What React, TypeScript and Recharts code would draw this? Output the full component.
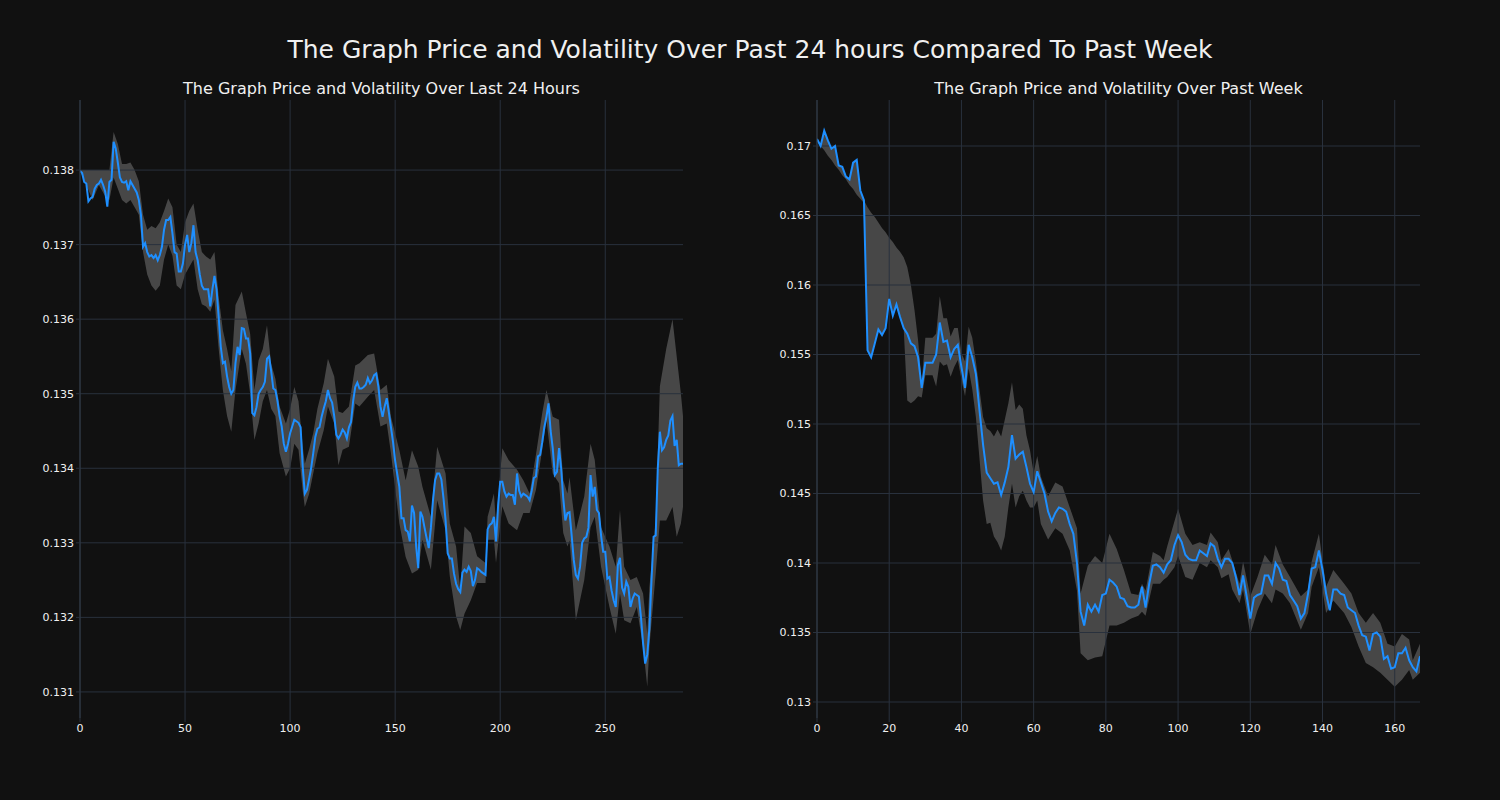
import React from 'react';
import {
  ComposedChart,
  Line,
  Area,
  XAxis,
  YAxis,
  ReferenceLine,
} from 'recharts';

// last 24 hours, one point per 5 minutes
const dayPrice = [
  0.13799, 0.13796, 0.13784, 0.13782, 0.13758, 0.13762, 0.13764, 0.13775, 0.13780, 0.13782,
  0.13787, 0.13780, 0.13771, 0.13751, 0.13784, 0.13787, 0.13838, 0.13829, 0.13810, 0.13790,
  0.13784, 0.13783, 0.13785, 0.13773, 0.13785, 0.13780, 0.13775, 0.13770, 0.13760, 0.13740,
  0.13697, 0.13702, 0.13690, 0.13684, 0.13686, 0.13682, 0.13686, 0.13679, 0.13686, 0.13697,
  0.13720, 0.13733, 0.13733, 0.13737, 0.13715, 0.13690, 0.13688, 0.13664, 0.13664, 0.13675,
  0.13700, 0.13713, 0.13690, 0.13702, 0.13726, 0.13690, 0.13679, 0.13660, 0.13645, 0.13640,
  0.13640, 0.13640, 0.13617, 0.13640, 0.13658, 0.13640, 0.13603, 0.13563, 0.13541, 0.13543,
  0.13523, 0.13509, 0.13500, 0.13505, 0.13541, 0.13563, 0.13552, 0.13588, 0.13587, 0.13574,
  0.13574, 0.13554, 0.13474, 0.13471, 0.13482, 0.13500, 0.13505, 0.13509, 0.13516, 0.13547,
  0.13550, 0.13530, 0.13507, 0.13505, 0.13490, 0.13470, 0.13456, 0.13433, 0.13422, 0.13433,
  0.13447, 0.13456, 0.13465, 0.13463, 0.13461, 0.13455, 0.13402, 0.13366, 0.13371, 0.13385,
  0.13400, 0.13420, 0.13442, 0.13453, 0.13455, 0.13469, 0.13480, 0.13490, 0.13505, 0.13494,
  0.13488, 0.13470, 0.13445, 0.13440, 0.13445, 0.13452, 0.13448, 0.13440, 0.13455, 0.13462,
  0.13490, 0.13509, 0.13515, 0.13507, 0.13507, 0.13509, 0.13512, 0.13521, 0.13514, 0.13518,
  0.13525, 0.13527, 0.13510, 0.13483, 0.13469, 0.13483, 0.13494, 0.13475, 0.13455, 0.13435,
  0.13410, 0.13392, 0.13375, 0.13333, 0.13333, 0.13317, 0.13315, 0.13302, 0.13350, 0.13340,
  0.13295, 0.13266, 0.13342, 0.13335, 0.13320, 0.13306, 0.13293, 0.13320, 0.13357, 0.13384,
  0.13393, 0.13393, 0.13385, 0.13360, 0.13330, 0.13286, 0.13279, 0.13279, 0.13259, 0.13245,
  0.13238, 0.13234, 0.13260, 0.13264, 0.13261, 0.13268, 0.13262, 0.13242, 0.13250, 0.13266,
  0.13264, 0.13261, 0.13259, 0.13257, 0.13318, 0.13324, 0.13326, 0.13335, 0.13302, 0.13350,
  0.13382, 0.13382, 0.13369, 0.13362, 0.13366, 0.13364, 0.13364, 0.13351, 0.13393, 0.13370,
  0.13362, 0.13366, 0.13364, 0.13362, 0.13357, 0.13370, 0.13387, 0.13389, 0.13416, 0.13418,
  0.13435, 0.13455, 0.13469, 0.13487, 0.13450, 0.13427, 0.13391, 0.13395, 0.13427, 0.13400,
  0.13360, 0.13330, 0.13340, 0.13341, 0.13310, 0.13277, 0.13257, 0.13252, 0.13268, 0.13300,
  0.13306, 0.13308, 0.13320, 0.13391, 0.13362, 0.13375, 0.13344, 0.13340, 0.13310, 0.13288,
  0.13288, 0.13252, 0.13254, 0.13236, 0.13223, 0.13214, 0.13270, 0.13280, 0.13240, 0.13232,
  0.13248, 0.13241, 0.13214, 0.13225, 0.13232, 0.13230, 0.13228, 0.13200, 0.13165, 0.13138,
  0.13150, 0.13185, 0.13250, 0.13308, 0.13310, 0.13400, 0.13449, 0.13424, 0.13428, 0.13438,
  0.13444, 0.13464, 0.13470, 0.13430, 0.13438, 0.13404, 0.13406, 0.13406,
];

// volatility band of the 24h panel (read at these indexes)
const dayBandX = [
  0, 3, 6, 9, 12, 14, 16, 18, 20, 22, 24, 26, 28, 30, 32, 34, 36, 38, 40, 42,
  44, 46, 48, 50, 52, 54, 56, 58, 60, 62, 64, 66, 68, 70, 72, 74, 77, 79, 81, 83,
  85, 87, 89, 91, 93, 95, 98, 100, 102, 104, 106, 107, 109, 111, 113, 116, 118, 121, 123, 125,
  128, 131, 133, 137, 140, 143, 146, 148, 152, 155, 158, 161, 163, 167, 170, 174, 176, 179, 181, 183,
  186, 189, 193, 194, 197, 198, 201, 204, 208, 211, 214, 217, 220, 222, 225, 228, 230, 232, 233, 236,
  240, 243, 245, 248, 252, 255, 257, 259, 262, 265, 268, 270, 271, 274, 276, 279, 282, 284, 286, 287,
];
const dayBandLo = [
  0.13799, 0.13780, 0.13760, 0.13780, 0.13765, 0.13760, 0.13790, 0.13775, 0.13760, 0.13755,
  0.13760, 0.13750, 0.13740, 0.13690, 0.13660, 0.13645, 0.13638, 0.13645, 0.13680, 0.13700,
  0.13685, 0.13645, 0.13640, 0.13660, 0.13670, 0.13680, 0.13640, 0.13620, 0.13617, 0.13610,
  0.13626, 0.13560, 0.13505, 0.13470, 0.13449, 0.13505, 0.13560, 0.13540, 0.13500, 0.13438,
  0.13460, 0.13490, 0.13505, 0.13480, 0.13470, 0.13420, 0.13389, 0.13400, 0.13433, 0.13425,
  0.13370, 0.13348, 0.13365, 0.13393, 0.13420, 0.13451, 0.13483, 0.13460, 0.13404, 0.13425,
  0.13429, 0.13487, 0.13483, 0.13496, 0.13505, 0.13456, 0.13460, 0.13420, 0.13326, 0.13281,
  0.13259, 0.13264, 0.13304, 0.13264, 0.13357, 0.13317, 0.13255, 0.13201, 0.13183, 0.13205,
  0.13223, 0.13246, 0.13246, 0.13304, 0.13304, 0.13273, 0.13349, 0.13326, 0.13317, 0.13340,
  0.13340, 0.13371, 0.13425, 0.13465, 0.13393, 0.13380, 0.13313, 0.13295, 0.13303, 0.13196,
  0.13250, 0.13321, 0.13335, 0.13268, 0.13214, 0.13178, 0.13232, 0.13196, 0.13192, 0.13214,
  0.13160, 0.13107, 0.13160, 0.13259, 0.13330, 0.13330, 0.13348, 0.13308, 0.13326, 0.13348,
];
const dayBandHi = [
  0.13800, 0.13800, 0.13800, 0.13800, 0.13800, 0.13800, 0.13851, 0.13835, 0.13808, 0.13808,
  0.13810, 0.13800, 0.13785, 0.13740, 0.13720, 0.13725, 0.13722, 0.13730, 0.13745, 0.13762,
  0.13750, 0.13700, 0.13690, 0.13730, 0.13745, 0.13755, 0.13720, 0.13690, 0.13684, 0.13680,
  0.13690, 0.13630, 0.13585, 0.13560, 0.13530, 0.13619, 0.13637, 0.13608, 0.13580, 0.13505,
  0.13545, 0.13560, 0.13592, 0.13540, 0.13520, 0.13483, 0.13460, 0.13480, 0.13509, 0.13490,
  0.13430, 0.13406, 0.13425, 0.13447, 0.13480, 0.13514, 0.13547, 0.13523, 0.13476, 0.13474,
  0.13483, 0.13538, 0.13541, 0.13552, 0.13554, 0.13505, 0.13512, 0.13469, 0.13424, 0.13384,
  0.13424, 0.13402, 0.13375, 0.13335, 0.13429, 0.13393, 0.13326, 0.13295, 0.13237, 0.13322,
  0.13313, 0.13282, 0.13273, 0.13335, 0.13366, 0.13326, 0.13427, 0.13411, 0.13398, 0.13384,
  0.13366, 0.13418, 0.13474, 0.13505, 0.13469, 0.13465, 0.13384, 0.13366, 0.13388, 0.13317,
  0.13362, 0.13433, 0.13411, 0.13321, 0.13295, 0.13268, 0.13344, 0.13268, 0.13250, 0.13254,
  0.13232, 0.13178, 0.13240, 0.13330, 0.13510, 0.13560, 0.13600, 0.13550, 0.13500, 0.13470,
];

// past week, one point per hour
const weekPrice = [
  0.1705, 0.1700, 0.1711, 0.1704, 0.1698, 0.1700, 0.1686, 0.1685, 0.1678, 0.1676,
  0.1688, 0.1690, 0.1668, 0.1661, 0.1553, 0.1548, 0.1558, 0.1568, 0.1564, 0.1569,
  0.1590, 0.1578, 0.1586, 0.1577, 0.1569, 0.1565, 0.1558, 0.1556, 0.1548, 0.1526,
  0.1544, 0.1544, 0.1544, 0.1550, 0.1573, 0.1559, 0.1560, 0.1548, 0.1554, 0.1557,
  0.1541, 0.1526, 0.1557, 0.1548, 0.1536, 0.1510, 0.1485, 0.1465, 0.1461, 0.1457,
  0.1458, 0.1449, 0.1458, 0.1469, 0.1492, 0.1475, 0.1478, 0.1480, 0.1469, 0.1457,
  0.1451, 0.1466, 0.1458, 0.1450, 0.1437, 0.1430, 0.1436, 0.1440, 0.1439, 0.1437,
  0.1428, 0.1421, 0.1400, 0.1365, 0.1355, 0.1370, 0.1365, 0.1370, 0.1365, 0.1377,
  0.1378, 0.1388, 0.1386, 0.1383, 0.1375, 0.1374, 0.1369, 0.1368, 0.1368, 0.1370,
  0.1383, 0.1368, 0.1385, 0.1398, 0.1399, 0.1397, 0.1393, 0.1399, 0.1402, 0.1413,
  0.1420, 0.1415, 0.1406, 0.1403, 0.1402, 0.1402, 0.1409, 0.1407, 0.1405, 0.1414,
  0.1412, 0.1403, 0.1397, 0.1403, 0.1403, 0.1400, 0.1390, 0.1377, 0.1391, 0.1376,
  0.1360, 0.1375, 0.1377, 0.1378, 0.1391, 0.1391, 0.1385, 0.1400, 0.1396, 0.1388,
  0.1387, 0.1377, 0.1373, 0.1369, 0.1360, 0.1364, 0.1378, 0.1396, 0.1397, 0.1409,
  0.1395, 0.1378, 0.1366, 0.1381, 0.1381, 0.1378, 0.1377, 0.1368, 0.1366, 0.1364,
  0.1355, 0.1348, 0.1347, 0.1337, 0.1349, 0.1350, 0.1347, 0.1331, 0.1333, 0.1324,
  0.1325, 0.1335, 0.1335, 0.1339, 0.1330, 0.1325, 0.1322, 0.1333,
];

const weekBandX = [
  0, 1, 2, 3, 4, 5, 6, 7, 8, 9, 10, 11, 12, 13, 14, 15, 16, 17, 18, 19,
  20, 21, 22, 23, 24, 25, 26, 27, 28, 29, 30, 32, 33, 34, 35, 36, 37, 38, 39, 40,
  41, 42, 43, 44, 46, 47, 48, 49, 50, 51, 52, 53, 54, 55, 56, 57, 58, 59, 60, 61,
  62, 64, 66, 68, 70, 72, 73, 75, 77, 79, 81, 83, 85, 87, 89, 90, 91, 93, 95, 96,
  97, 99, 100, 102, 104, 106, 108, 109, 111, 112, 114, 115, 117, 118, 120, 122, 124, 126, 127, 129,
  131, 134, 136, 137, 139, 141, 143, 146, 148, 150, 152, 154, 156, 158, 160, 162, 164, 165, 167,
];
const weekBandLo = [
  0.1704, 0.1700, 0.1697, 0.1693, 0.1690, 0.1686, 0.1683, 0.1679, 0.1676, 0.1672,
  0.1669, 0.1665, 0.1662, 0.1659, 0.1553, 0.1548, 0.1558, 0.1568, 0.1564, 0.1569,
  0.1590, 0.1578, 0.1586, 0.1577, 0.1569, 0.1517, 0.1515, 0.1517, 0.1520, 0.1519,
  0.1535, 0.1535, 0.1527, 0.1545, 0.1542, 0.1543, 0.1534, 0.1541, 0.1546, 0.1532,
  0.1520, 0.1540, 0.1525, 0.1505, 0.1445, 0.1428, 0.1429, 0.1419, 0.1415, 0.1409,
  0.1419, 0.1440, 0.1457, 0.1440, 0.1448, 0.1452, 0.1445, 0.1440, 0.1440, 0.1445,
  0.1428, 0.1417, 0.1425, 0.1421, 0.1409, 0.1380, 0.1335, 0.1330, 0.1332, 0.1333,
  0.1355, 0.1355, 0.1357, 0.1360, 0.1362, 0.1365, 0.1362, 0.1385, 0.1385, 0.1388,
  0.1390, 0.1397, 0.1405, 0.1390, 0.1388, 0.1400, 0.1397, 0.1402, 0.1397, 0.1389,
  0.1392, 0.1381, 0.1371, 0.1381, 0.1349, 0.1366, 0.1378, 0.1371, 0.1381, 0.1378,
  0.1371, 0.1352, 0.1364, 0.1383, 0.1397, 0.1364, 0.1373, 0.1364, 0.1354, 0.1340,
  0.1328, 0.1325, 0.1321, 0.1316, 0.1311, 0.1316, 0.1323, 0.1316, 0.1321,
];
const weekBandHi = [
  0.17055, 0.1701, 0.1711, 0.1704, 0.1698, 0.1700, 0.1686, 0.1685, 0.1678, 0.1676,
  0.1688, 0.1690, 0.1668, 0.1661, 0.1656, 0.1652, 0.1649, 0.1645, 0.1641, 0.1638,
  0.1634, 0.1631, 0.1627, 0.1624, 0.1620, 0.1613, 0.1600, 0.1582, 0.1560, 0.1530,
  0.1562, 0.1562, 0.1565, 0.1592, 0.1576, 0.1576, 0.1563, 0.1569, 0.1569, 0.1551,
  0.1545, 0.1570, 0.1562, 0.1545, 0.1505, 0.1497, 0.1495, 0.1491, 0.1496, 0.1491,
  0.1503, 0.1515, 0.1530, 0.1510, 0.1514, 0.1511, 0.1492, 0.1481, 0.1465, 0.1477,
  0.1462, 0.1448, 0.1458, 0.1455, 0.1440, 0.1425, 0.1378, 0.1398, 0.1405, 0.1400,
  0.1421, 0.1410, 0.1395, 0.1378, 0.1377, 0.1385, 0.1380, 0.1408, 0.1405, 0.1402,
  0.1412, 0.1430, 0.1439, 0.1421, 0.1413, 0.1415, 0.1413, 0.1422, 0.1415, 0.1402,
  0.1410, 0.1402, 0.1385, 0.1401, 0.1376, 0.1390, 0.1406, 0.1399, 0.1413, 0.1399,
  0.1390, 0.1376, 0.1381, 0.1401, 0.1421, 0.1383, 0.1395, 0.1385, 0.1378, 0.1364,
  0.1357, 0.1364, 0.1357, 0.1342, 0.1340, 0.1349, 0.1345, 0.1330, 0.1342,
];

const dayXTicks = [0, 50, 100, 150, 200, 250];
const dayYTicks = [0.131, 0.132, 0.133, 0.134, 0.135, 0.136, 0.137, 0.138];
const weekXTicks = [0, 20, 40, 60, 80, 100, 120, 140, 160];
const weekYTicks = [0.13, 0.135, 0.14, 0.145, 0.15, 0.155, 0.16, 0.165, 0.17];

const BG = '#111111';
const GRID = '#29313d';
const TEXT = '#f0f0f0';
const FONT = '"DejaVu Sans", sans-serif';

function buildRows(price: number[], bx: number[], lo: number[], hi: number[]) {
  const rows: any[] = price.map((p, i) => ({ x: i, price: p }));
  bx.forEach((x, k) => {
    rows[x].band = [lo[k], hi[k]];
  });
  return rows;
}

const dayRows = buildRows(dayPrice, dayBandX, dayBandLo, dayBandHi);
const weekRows = buildRows(weekPrice, weekBandX, weekBandLo, weekBandHi);

const fmt = (v: number) => String(+v.toFixed(3));

interface PanelProps {
  rows: any[];
  left: number;
  title: string;
  xMax: number;
  xTicks: number[];
  yDomain: [number, number];
  yTicks: number[];
}

const Panel: React.FC<PanelProps> = ({ rows, left, title, xMax, xTicks, yDomain, yTicks }) => (
  <div style={{ position: 'absolute', left, top: 0, width: 700, height: 800 }}>
    <div
      style={{
        position: 'absolute',
        left: 80,
        width: 603,
        top: 79,
        textAlign: 'center',
        fontSize: 16,
        lineHeight: '20px',
        color: TEXT,
      }}
    >
      {title}
    </div>
    <ComposedChart width={700} height={800} data={rows} margin={{ top: 100, right: 17, bottom: 52, left: 0 }}>
      <XAxis
        dataKey="x"
        type="number"
        domain={[0, xMax]}
        ticks={xTicks}
        allowDataOverflow
        height={30}
        axisLine={false}
        tickLine={{ stroke: GRID }}
        tickSize={4}
        tick={{ fill: TEXT, fontSize: 11, fontFamily: FONT }}
      />
      <YAxis
        type="number"
        domain={yDomain}
        ticks={yTicks}
        allowDataOverflow
        width={80}
        axisLine={{ stroke: '#333c48' }}
        tickLine={{ stroke: GRID }}
        tickSize={4}
        tickFormatter={fmt}
        tick={{ fill: TEXT, fontSize: 11, fontFamily: FONT }}
      />
      {yTicks.map((t) => (
        <ReferenceLine key={'y' + t} y={t} stroke={GRID} strokeWidth={1} />
      ))}
      {xTicks.map((t) => (
        <ReferenceLine key={'x' + t} x={t} stroke={GRID} strokeWidth={1} />
      ))}
      <Area
        dataKey="band"
        type="linear"
        stroke="none"
        fill="#8a8a8a"
        fillOpacity={0.45}
        connectNulls
        isAnimationActive={false}
      />
      <Line
        dataKey="price"
        type="linear"
        stroke="#1e8fff"
        strokeWidth={2}
        dot={false}
        isAnimationActive={false}
      />
    </ComposedChart>
  </div>
);

export default function App() {
  return (
    <div style={{ position: 'absolute', left: 0, top: 0, width: 1500, height: 800, background: BG, fontFamily: FONT }}>
      <div
        style={{
          position: 'absolute',
          left: 0,
          width: 1500,
          top: 35,
          textAlign: 'center',
          fontSize: 25,
          lineHeight: '30px',
          color: TEXT,
        }}
      >
        The Graph Price and Volatility Over Past 24 hours Compared To Past Week
      </div>
      <Panel
        rows={dayRows}
        left={0}
        title="The Graph Price and Volatility Over Last 24 Hours"
        xMax={287}
        xTicks={dayXTicks}
        yDomain={[0.13065, 0.13894]}
        yTicks={dayYTicks}
      />
      <Panel
        rows={weekRows}
        left={737}
        title="The Graph Price and Volatility Over Past Week"
        xMax={167}
        xTicks={weekXTicks}
        yDomain={[0.12885, 0.17331]}
        yTicks={weekYTicks}
      />
    </div>
  );
}
